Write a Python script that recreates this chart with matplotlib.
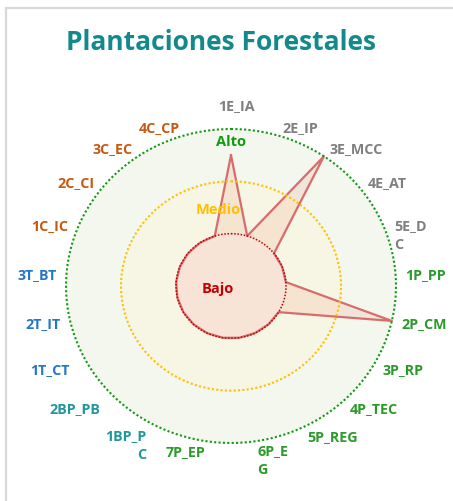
import numpy as np
import matplotlib
matplotlib.use("Agg")
import matplotlib.pyplot as plt
from matplotlib.patches import Rectangle

# ---------------- data ----------------
categories = ['1E_IA', '2E_IP', '3E_MCC', '4E_AT', '5E_D\nC', '1P_PP', '2P_CM',
              '3P_RP', '4P_TEC', '5P_REG', '6P_E\nG', '7P_EP', '1BP_P\nC',
              '2BP_PB', '1T_CT', '2T_IT', '3T_BT', '1C_IC', '2C_CI', '3C_EC', '4C_CP']
groups = ['E'] * 5 + ['P'] * 7 + ['BP'] * 2 + ['T'] * 3 + ['C'] * 4
values = [2.5, 1, 3, 1, 1, 1, 3, 1, 1, 1, 1, 1, 1, 1, 1, 1, 1, 1, 1, 1, 1]
level_names = ['Alto', 'Medio', 'Bajo']
level_values = [3, 2, 1]
title = 'Plantaciones Forestales'

# ---------------- styles ----------------
FONT = ['Open Sans', 'DejaVu Sans']
group_colors = {'E': '#7f7f7f', 'P': '#2a9a2a', 'BP': '#1f979b',
                'T': '#2577c4', 'C': '#c55a11'}
level_line = {'Alto': '#129a12', 'Medio': '#ffc000', 'Bajo': '#c00000'}
level_fill = {'Alto': '#f3f7ee', 'Medio': '#f7f5e4', 'Bajo': '#f8e3d7'}
level_text_pos = {'Alto': (0.50, 0.962), 'Medio': (0.46, 0.745), 'Bajo': (0.46, 0.494)}
# label nudges in pixels (dx, dy up)
label_nudge = {'1E_IA': (5, 15), '5E_D\nC': (0, -9), '6P_E\nG': (0, -9),
               '1BP_P\nC': (-9, -9), '2BP_PB': (-12, 0), '1T_CT': (-10, 0)}

W, H = 453, 502
fig = plt.figure(figsize=(W / 100, H / 100), dpi=100)
fig.patch.set_facecolor('white')

# frame
fig.add_artist(Rectangle((6 / W, -0.1), 1.2, (H - 9) / H + 0.1, transform=fig.transFigure,
                         fill=False, ec='#d9d9d9', lw=1.6))

fig.text(221 / W, 1 - 42 / H, title, ha='center', va='center', fontsize=19,
         fontweight='bold', color='#14898c', family=FONT)

ax = fig.add_axes([66 / W, 58 / H, 330 / W, 314 / H], projection='polar')
ax.set_theta_zero_location('N')
ax.set_theta_direction(-1)
ax.set_aspect('auto')
ax.set_ylim(0, 3)
ax.set_axis_off()

n = len(categories)
theta = np.arange(n) * 2 * np.pi / n
tt = np.linspace(0, 2 * np.pi, 600)

# level fills
for name, lv in zip(level_names[:2], level_values[:2]):
    ax.fill(tt, np.full_like(tt, lv), color=level_fill[name], lw=0, zorder=1)

# data fill
th_c = np.append(theta, theta[0])
v_c = np.append(values, values[0])
ax.fill(th_c, v_c, color='#e8a080', alpha=0.2, lw=0, zorder=2)

# inner level fill
ax.fill(tt, np.full_like(tt, level_values[2]), color=level_fill['Bajo'], lw=0, zorder=3)

# data line
ax.plot(th_c, v_c, color='#d45f5f', lw=1.6, alpha=0.9, zorder=4, clip_on=False)

# dotted level circles
for name, lv in zip(level_names, level_values):
    lw = 1.5 if name != 'Bajo' else 1.1
    ax.plot(tt, np.full_like(tt, lv), color=level_line[name], lw=lw,
            linestyle=(0, (1, 1.1)), dash_capstyle='butt', zorder=5, clip_on=False)
    px, py = level_text_pos[name]
    ax.text(px, py, name, transform=ax.transAxes, ha='center', va='center',
            fontsize=10.5, fontweight='bold', color=level_line[name], family=FONT, zorder=6)

# category labels
r_lab = 3.18
for i, (lab, g) in enumerate(zip(categories, groups)):
    s, c = np.sin(theta[i]), np.cos(theta[i])
    ha = 'left' if s > 0.05 else ('right' if s < -0.05 else 'center')
    dx, dy = label_nudge.get(lab, (0, 0))
    ax.annotate(lab, xy=(theta[i], r_lab), xytext=(dx * 0.72, dy * 0.72),
                textcoords='offset points', ha=ha, va='center', fontsize=10.3,
                fontweight='bold', color=group_colors[g], family=FONT,
                linespacing=1.45, annotation_clip=False)

fig.savefig('out.png', dpi=100)
